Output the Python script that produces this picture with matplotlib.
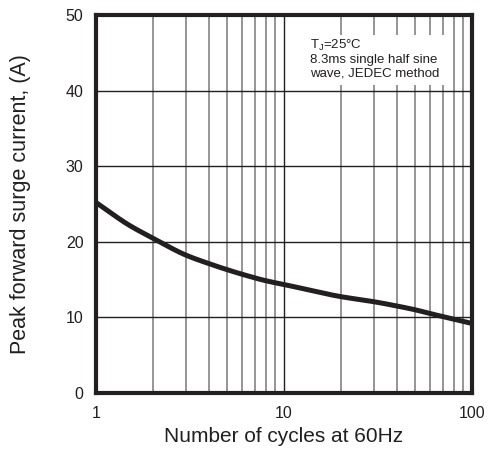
import matplotlib
matplotlib.use("Agg")
import matplotlib.pyplot as plt
from matplotlib.patches import Rectangle
import numpy as np

cycles = [1, 1.5, 2, 3, 4, 5, 6, 8, 10, 20, 30, 40, 50, 60, 70, 80, 100]
current = [25.2, 22.2, 20.5, 18.25, 17.1, 16.3, 15.7, 14.85, 14.35, 12.75, 12.08, 11.5, 11.0, 10.5, 10.1, 9.75, 9.2]
x_ticks = [1, 10, 100]
y_ticks = [0, 10, 20, 30, 40, 50]


def pchip(x, y, xs):
    x = np.asarray(x, float); y = np.asarray(y, float)
    h = np.diff(x); d = np.diff(y) / h
    n = len(x); m = np.zeros(n)
    for k in range(1, n - 1):
        if d[k - 1] * d[k] > 0:
            w1 = 2 * h[k] + h[k - 1]; w2 = h[k] + 2 * h[k - 1]
            m[k] = (w1 + w2) / (w1 / d[k - 1] + w2 / d[k])
    m[0] = d[0]; m[-1] = d[-1]
    idx = np.clip(np.searchsorted(x, xs) - 1, 0, n - 2)
    t = (xs - x[idx]) / h[idx]
    h00 = 2 * t**3 - 3 * t**2 + 1; h10 = t**3 - 2 * t**2 + t
    h01 = -2 * t**3 + 3 * t**2; h11 = t**3 - t**2
    return h00 * y[idx] + h10 * h[idx] * m[idx] + h01 * y[idx + 1] + h11 * h[idx] * m[idx + 1]


plt.rcParams['font.family'] = ['Liberation Sans', 'DejaVu Sans']
fig = plt.figure(figsize=(4.9, 4.53), dpi=100)
ax = fig.add_axes([96/490, 60/453, 376/490, 378/453])
ax.set_xscale('log')
ax.set_xlim(1, 100)
ax.set_ylim(0, 50)

for d in [1, 10]:
    for mm in range(2, 10):
        ax.axvline(d*mm, color='#8c8c8c', lw=1.3, zorder=1)
ax.axvline(10, color='#231f20', lw=1.0, zorder=1)
for yv in [10, 20, 30, 40]:
    ax.axhline(yv, color='#231f20', lw=1.0, zorder=1)

ax.add_patch(Rectangle((0.55, 0.815), 0.394, 0.132, transform=ax.transAxes,
                       facecolor='white', edgecolor='none', zorder=2))
ax.text(0.569, 0.94, "T$_\\mathregular{J}$=25°C\n8.3ms single half sine\nwave, JEDEC method",
        transform=ax.transAxes, ha='left', va='top', fontsize=9.5, linespacing=1.15,
        color='#231f20', zorder=3)

lx = np.log10(cycles)
xs = np.linspace(0, 2, 300)
ys = pchip(lx, current, xs)
ax.plot(10**xs, ys, color='#231f20', lw=3.6, zorder=4, solid_capstyle='butt')

for s in ax.spines.values():
    s.set_linewidth(3)
    s.set_color('#231f20')
    s.set_zorder(5)

ax.set_xticks(x_ticks)
ax.set_xticklabels([str(v) for v in x_ticks])
ax.xaxis.set_minor_locator(matplotlib.ticker.NullLocator())
ax.set_yticks(y_ticks)
ax.tick_params(length=0, labelsize=11.5, colors='#231f20')
ax.tick_params(axis='x', pad=9)
ax.tick_params(axis='y', pad=9)
ax.set_xlabel('Number of cycles at 60Hz', fontsize=15, color='#231f20', labelpad=5)
ax.set_ylabel('Peak forward surge current, (A)', fontsize=15.5, color='#231f20', labelpad=25)

fig.savefig('out.png', dpi=100)
